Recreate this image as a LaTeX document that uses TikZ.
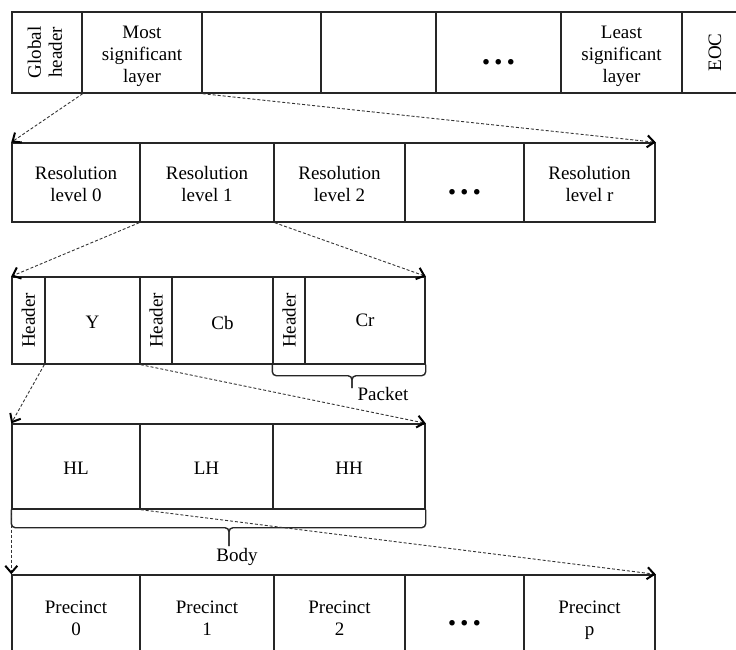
\documentclass[tikz,border=0pt]{standalone}
\usepackage{fontspec}
\setmainfont{Liberation Serif}
\usetikzlibrary{arrows.meta,calc}
\begin{document}
\begin{tikzpicture}[x=1pt,y=-1pt,
  cell/.style={draw=black!85, line width=1.4pt, inner sep=0pt,
    font=\fontsize{19}{22}\selectfont},
  rowA/.style={cell, minimum height=81pt},
  rowB/.style={cell, minimum height=79pt},
  rowC/.style={cell, minimum height=87pt},
  rowD/.style={cell, minimum height=85pt},
  rowE/.style={cell, minimum height=85pt},
  txt/.style={inner sep=0pt, align=center, text depth=0pt,
    font=\fontsize{19}{22}\selectfont},
  label/.style={inner sep=0pt, font=\fontsize{19}{22}\selectfont},
  ellip/.style={inner sep=0pt, anchor=base, font=\fontsize{34}{34}\selectfont\bfseries},
  link/.style={draw=black!80, line width=0.9pt, dash pattern=on 3pt off 2pt,
    shorten >=1pt},
  linktip/.style={draw=black, line width=2pt, solid,
    -{Straight Barb[length=7pt,width=12pt]}},
  curlybrace/.style={draw=black!85, line width=1.4pt, rounded corners=4pt}]
\useasboundingbox (0,0) rectangle (736,649);
\clip (0,0) rectangle (736,649);

% Codestream: layers
\node[rowA, minimum width=70pt]  (gh)  at (47,52.5)    {\rotatebox{90}{\begin{tabular}{@{}c@{}}Global\\[-1pt]header\end{tabular}}};
\node[rowA, minimum width=120pt] (msl) at (142,52.5)   {};
\node[rowA, minimum width=119pt] (la)  at (261.5,52.5) {};
\node[rowA, minimum width=115pt] (lb)  at (378.5,52.5) {};
\node[rowA, minimum width=125pt] (lc)  at (498.5,52.5) {};
\node[rowA, minimum width=121pt] (lsl) at (621.5,52.5) {};
\node[rowA, minimum width=66pt]  (eoc) at (715,52.5)   {\rotatebox{90}{EOC}};
\node[txt] (mslT) at ($(msl)+(0,1.6)$) {Most\\significant\\layer};
\node[txt] (lslT) at ($(lsl)+(0,1.6)$) {Least\\significant\\layer};
\node[ellip] (dotsA) at (498.5,64) {.\kern4pt.\kern4pt.};

% Layer: resolution levels
\node[rowB, minimum width=128pt] (r0) at (76,182.5)    {};
\node[rowB, minimum width=134pt] (r1) at (207,182.5)   {};
\node[rowB, minimum width=131pt] (r2) at (339.5,182.5) {};
\node[rowB, minimum width=119pt] (rd) at (464.5,182.5) {};
\node[rowB, minimum width=131pt] (rr) at (589.5,182.5) {};
\node[txt] (r0T) at ($(r0)+(0,1)$) {Resolution\\level 0};
\node[txt] (r1T) at ($(r1)+(0,1)$) {Resolution\\level 1};
\node[txt] (r2T) at ($(r2)+(0,1)$) {Resolution\\level 2};
\node[txt] (rrT) at ($(rr)+(0,1)$) {Resolution\\level r};
\node[ellip] (dotsB) at (464.5,194.5) {.\kern4pt.\kern4pt.};

% Resolution level: packets
\node[rowC, minimum width=33pt]  (h1) at (28.5,320.5)  {\rotatebox{90}{Header}};
\node[rowC, minimum width=95pt]  (cy) at (92.5,320.5)  {};
\node[rowC, minimum width=32pt]  (h2) at (156,320.5)   {\rotatebox{90}{Header}};
\node[rowC, minimum width=101pt] (cb) at (222.5,320.5) {};
\node[rowC, minimum width=32pt]  (h3) at (289,320.5)   {\rotatebox{90}{Header}};
\node[rowC, minimum width=120pt] (cr) at (365,320.5)   {};
\node[txt] (cyT) at ($(cy)+(0,2)$) {Y};
\node[txt] (cbT) at ($(cb)+(0,2)$) {Cb};
\node[txt] (crT) at ($(cr)+(0,0)$) {Cr};

% Packet body: subbands
\node[rowD, minimum width=128pt] (hl) at (76,466.5)    {};
\node[rowD, minimum width=133pt] (lh) at (206.5,466.5) {};
\node[rowD, minimum width=152pt] (hh) at (349,466.5)   {};
\node[txt] (hlT) at ($(hl)+(0,1.8)$) {HL};
\node[txt] (lhT) at ($(lh)+(0,1.8)$) {LH};
\node[txt] (hhT) at ($(hh)+(0,1.8)$) {HH};

% Subband: precincts
\node[rowE, minimum width=128pt] (p0) at (76,617.5)    {};
\node[rowE, minimum width=134pt] (p1) at (207,617.5)   {};
\node[rowE, minimum width=131pt] (p2) at (339.5,617.5) {};
\node[rowE, minimum width=119pt] (pd) at (464.5,617.5) {};
\node[rowE, minimum width=131pt] (pp) at (589.5,617.5) {};
\node[txt] (p0T) at ($(p0)+(0,1)$) {Precinct\\0};
\node[txt] (p1T) at ($(p1)+(0,1)$) {Precinct\\1};
\node[txt] (p2T) at ($(p2)+(0,1)$) {Precinct\\2};
\node[txt] (ppT) at ($(pp)+(0,1)$) {Precinct\\p};
\node[ellip] (dotsE) at (464.5,625.5) {.\kern4pt.\kern4pt.};

% Braces with their labels
\coordinate (pktip) at (352,388);
\draw[curlybrace] (h3.south west) -- ++(0,11) -| (pktip);
\draw[curlybrace] (cr.south east) -- ++(0,11) -| (pktip);
\node[label] (pkt) at (383,394) {Packet};

\coordinate (bdtip) at (229,546);
\draw[curlybrace] (hl.south west) -- ++(0,18) -| (bdtip);
\draw[curlybrace] (hh.south east) -- ++(0,18) -| (bdtip);
\node[label] (body) at (237,557) {Body};

% Expansion links: dashed line, then a solid tip at the far end
\foreach \a/\b in {gh.south east/r0.north west, msl.south east/rr.north east,
                   r1.south west/h1.north west, r1.south east/cr.north east,
                   cy.south west/hl.north west, cy.south east/hh.north east,
                   hl.south west/p0.north west, hl.south east/pp.north east}{
  \draw[link] (\a) -- (\b);
  \draw[linktip] ($(\b)!1pt!(\a)$) -- (\b);
}
\end{tikzpicture}
\end{document}
